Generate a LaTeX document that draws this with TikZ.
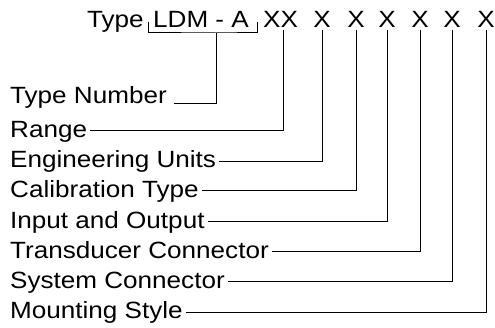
\documentclass[tikz,border=0pt]{standalone}
\usepackage{fontspec}
\newfontfamily\lblfont[FakeStretch=1.11]{Liberation Sans}
\begin{document}
\begin{tikzpicture}[x=1pt,y=1pt,
  txt/.style={font=\lblfont\fontsize{23.5}{23.5}\selectfont, inner sep=0pt, text=black},
  conn/.style={draw=black, line width=1pt}]
\useasboundingbox (0,0) rectangle (495,327);
% header
\node[txt, anchor=base west] (type) at (87,299) {Type};
\node[txt, anchor=base west] (ldm) at (153,299) {LDM - A};
\node[txt, anchor=base west] (xx) at (263,299) {XX};
\node[txt, anchor=base] (x1) at (322,299) {X};
\node[txt, anchor=base] (x2) at (356,299) {X};
\node[txt, anchor=base] (x3) at (387,299) {X};
\node[txt, anchor=base] (x4) at (420,299) {X};
\node[txt, anchor=base] (x5) at (452,299) {X};
\node[txt, anchor=base] (x6) at (486,299) {X};
% bracket
\coordinate (bl) at (148,305);
\coordinate (br) at (257,305);
\coordinate (brk) at (216,294);
\draw[conn] (bl) |- (brk) -| (br);
% labels
\node[txt, anchor=base west] (tn) at (10,223) {Type Number};
\node[txt, anchor=base west] (rng) at (10,189) {Range};
\node[txt, anchor=base west] (eng) at (10,159) {Engineering Units};
\node[txt, anchor=base west] (cal) at (10,130) {Calibration Type};
\node[txt, anchor=base west] (io) at (10,99) {Input and Output};
\node[txt, anchor=base west] (tc) at (10,69) {Transducer Connector};
\node[txt, anchor=base west] (sc) at (10,39) {System Connector};
\node[txt, anchor=base west] (ms) at (10,9) {Mounting Style};
% connectors
\draw[conn] ([xshift=7pt]tn.base east) -| (brk);
\draw[conn] ([xshift=3pt,yshift=7pt]rng.base east) -| ([xshift=3pt,yshift=-1.5pt]xx.south);
\draw[conn] ([xshift=3pt,yshift=6.5pt]eng.base east) -| ([yshift=-1.5pt]x1.south);
\draw[conn] ([xshift=3pt,yshift=6.5pt]cal.base east) -| ([yshift=-1.5pt]x2.south);
\draw[conn] ([xshift=3pt,yshift=6.5pt]io.base east) -| ([yshift=-1.5pt]x3.south);
\draw[conn] ([xshift=3pt,yshift=6.5pt]tc.base east) -| ([yshift=-1.5pt]x4.south);
\draw[conn] ([xshift=3pt,yshift=6.5pt]sc.base east) -| ([yshift=-1.5pt]x5.south);
\draw[conn] ([xshift=3pt,yshift=5.5pt]ms.base east) -| ([yshift=-1.5pt]x6.south);
\end{tikzpicture}
\end{document}
